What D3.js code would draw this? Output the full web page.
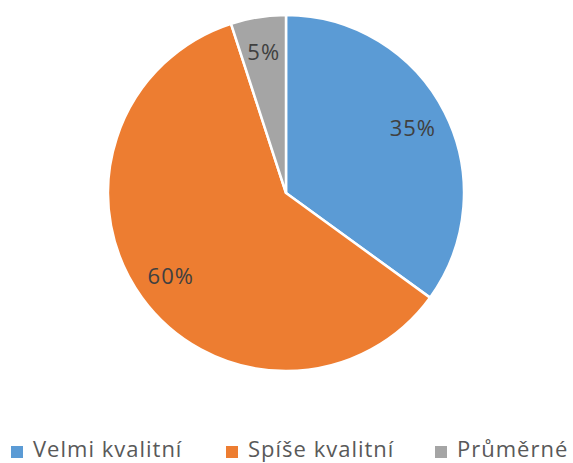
<!DOCTYPE html>
<html>
<head>
<meta charset="utf-8">
<script src="https://cdn.jsdelivr.net/npm/d3@7"></script>
<style>
  body { margin: 0; background: #fff; }
  text { font-family: "Open Sans", "Noto Sans", sans-serif; }
</style>
</head>
<body>
<div id="chart"></div>
<script>
const categories = ["Velmi kvalitní", "Spíše kvalitní", "Průměrné"];
const values = [35, 60, 5];
const colors = ["#5B9BD5", "#ED7D31", "#A5A5A5"];

const width = 573, height = 463;
const cx = 286, cy = 193, radius = 178;

const svg = d3.select("#chart").append("svg")
    .attr("width", width)
    .attr("height", height);

const data = categories.map((c, i) => ({ name: c, value: values[i], color: colors[i] }));

const pie = d3.pie().sort(null).value(d => d.value);
const arc = d3.arc().innerRadius(0).outerRadius(radius);
const labelArc = d3.arc().innerRadius(radius * 0.8).outerRadius(radius * 0.8);

const g = svg.append("g").attr("transform", `translate(${cx},${cy})`);
const arcs = pie(data);

g.selectAll("path")
    .data(arcs)
    .join("path")
    .attr("d", arc)
    .attr("fill", d => d.data.color)
    .attr("stroke", "#fff")
    .attr("stroke-width", 2.5);

// data labels
g.selectAll("text.lbl")
    .data(arcs)
    .join("text")
    .attr("class", "lbl")
    .attr("transform", d => `translate(${labelArc.centroid(d)})`)
    .attr("text-anchor", "middle")
    .attr("dy", "0.35em")
    .attr("font-size", 22)
    .attr("letter-spacing", 1)
    .attr("fill", "#404040")
    .text(d => d.data.value + "%");

// legend
const legendX = [11, 226, 435];
const legend = svg.append("g").attr("transform", "translate(0,457)");
const items = legend.selectAll("g")
    .data(data)
    .join("g")
    .attr("transform", (d, i) => `translate(${legendX[i]},0)`);
items.append("rect")
    .attr("x", 0).attr("y", -11)
    .attr("width", 12).attr("height", 12)
    .attr("fill", d => d.color);
items.append("text")
    .attr("x", 22)
    .attr("font-size", 22)
    .attr("letter-spacing", 1)
    .attr("fill", "#595959")
    .text(d => d.name);
</script>
</body>
</html>
